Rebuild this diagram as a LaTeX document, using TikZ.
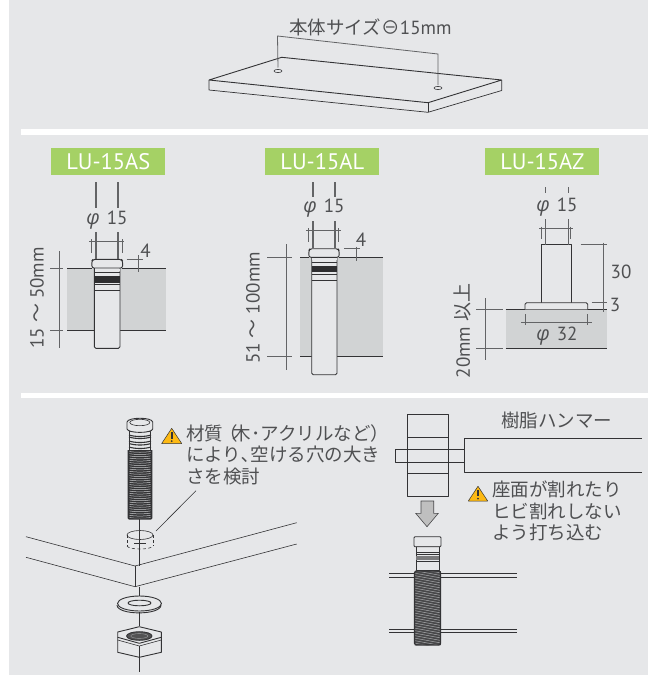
\documentclass[tikz,border=0pt]{standalone}
\usepackage{fontspec}
\setmainfont{PT Sans}
\newfontfamily\cjk{Noto Sans CJK JP}
\newfontfamily\phifont{Open Sans}
\newcommand{\phisym}{{\phifont\itshape\fontsize{20}{20}\selectfont φ}}
\definecolor{bgc}{HTML}{E6E7E9}
\definecolor{blockc}{HTML}{D1D3D4}
\definecolor{greenc}{HTML}{A5D165}
\definecolor{inkc}{HTML}{333335}
\definecolor{textc}{HTML}{4F5052}
\definecolor{dimc}{HTML}{636466}
\definecolor{warnc}{HTML}{FDB913}
\tikzset{
  ink/.style={draw=inkc,line width=0.9pt,line join=round},
  thin ink/.style={draw=inkc,line width=0.6pt},
  dimline/.style={draw=dimc,line width=0.8pt},
  tick/.style={draw=dimc,line width=1.3pt},
  block/.style={fill=blockc,draw=none},
  lbl/.style={text=textc,font=\fontsize{19}{20}\selectfont,inner sep=0pt},
  jp/.style={text=textc,font=\cjk\fontsize{18.5}{21.5}\selectfont,inner sep=0pt,align=left,anchor=north west},
  tag/.style={fill=greenc,text=white,font=\fontsize{22.5}{23}\selectfont,minimum width=114pt,minimum height=27pt,inner sep=0pt},
  warn/.style={fill=warnc,draw=inkc,line width=0.5pt,line join=round}
}
\newcommand{\warnsign}[3]{%
  \filldraw[warn] (#1,#2) -- ++(#3,0) -- ++(-#3/2,-#3*0.76) -- cycle;
  \fill[inkc] (#1+#3/2-0.9,#2-#3*0.58) rectangle (#1+#3/2+0.9,#2-#3*0.24);
  \fill[inkc] (#1+#3/2,#2-#3*0.12) circle (1pt);
}
\begin{document}
\begin{tikzpicture}[x=1pt,y=-1pt]
\useasboundingbox (0,0) rectangle (648,675);
\fill[white] (0,0) rectangle (648,675);
\fill[bgc] (9,0) rectangle (648,675);
\fill[white] (21,129) rectangle (648,134.5);
\fill[white] (21,393) rectangle (648,398.3);

% ---------- top plate
\draw[ink] (209,80) -- (281.7,57.3) -- (501.7,80) -- (428,102.7) -- cycle;
\draw[ink,line width=0.7pt] (209,80) -- (209,90) -- (428,112.3) -- (501.7,90.5) -- (501.7,80);
\draw[ink,line width=0.7pt] (428,102.7) -- (428,112.3);
\draw[thin ink] (278,71) ellipse (4 and 1.6);
\draw[thin ink] (438,88) ellipse (4 and 1.6);
\draw[dimline] (278,67.5) -- (277.5,36) -- (438,54) -- (438,85);
\node[lbl] (title) at (370.5,27.5) {{\cjk\fontsize{18.5}{20}\selectfont 本体サイズ⊖}15mm};

% ---------- LU-15AS
\node[tag] (tagAS) at (108.3,161.5) {LU-15AS};
\fill[block] (67.3,268) rectangle (166,330);
\draw[ink] (67.3,268) -- (92,268) (122,268) -- (166,268);
\draw[ink] (67.3,330) -- (94.3,330) (120,330) -- (166,330);
\draw[ink,fill=bgc] (94.3,268) -- (94.3,346.5) [rounded corners=1.5pt] -- (94.3,348.3) -- (120,348.3) -- (120,268);
\draw[ink,rounded corners=2pt] (92,268) -- (91.7,261) -- (93,259.3) -- (121.5,259.3) -- (122.7,261) -- (122.5,268) -- cycle;
\fill[bgc] (94.7,268.5) rectangle (119.6,271);
\draw[ink] (94.3,272.7) -- (120,272.7);
\fill[inkc!90!black] (94.3,276) rectangle (120,282.7);
\draw[ink] (94.3,284.5) -- (120,284.5) (94.3,290.7) -- (120,290.7);
\draw[tick] (96,182) -- (96,208) (118,182) -- (118,208);
\draw[tick] (96,232) -- (96,259) (118,232) -- (118,259);
\node[lbl] (dAS) at (107,220) {\phisym\hspace{7pt}15};
\draw[dimline] (89,241.3) -- (124,241.3) (91.7,239) -- (91.7,252.7) (122,239) -- (122,252.7);
\draw[dimline] (126.7,259.3) -- (143.3,259.3) (138.7,255) -- (138.7,272);
\node[lbl] (fAS) at (145.5,251) {4};
\draw[dimline] (59,251) -- (59,347.7) (50,268) -- (63,268) (50,330) -- (63,330);
\node[lbl,rotate=90] (hAS) at (37,298) {15 {\cjk ～} 50mm};

% ---------- LU-15AL
\node[tag] (tagAL) at (322.3,161.5) {LU-15AL};
\fill[block] (300.3,257.3) rectangle (383.3,356);
\draw[ink] (300.3,257.3) -- (309,257.3) (339,257.3) -- (383.3,257.3);
\draw[ink] (300.3,356) -- (311.7,356) (337,356) -- (383.3,356);
\draw[ink,fill=bgc] (311.7,257.3) -- (311.7,373) [rounded corners=1.5pt] -- (311.7,374.7) -- (337,374.7) -- (337,257.3);
\draw[ink,rounded corners=2pt] (309,257.3) -- (308.7,250.5) -- (310,248.7) -- (338,248.7) -- (339.3,250.5) -- (339,257.3) -- cycle;
\fill[bgc] (312,257.8) rectangle (336.6,260);
\draw[ink] (311.7,262) -- (337,262);
\fill[inkc!90!black] (311.7,266) rectangle (337,272);
\draw[ink] (311.7,274.3) -- (337,274.3) (311.7,280.3) -- (337,280.3);
\draw[tick] (313,182) -- (313,197) (335,182) -- (335,197);
\draw[tick] (313,221) -- (313,248.3) (335,221) -- (335,248.3);
\node[lbl] (dAL) at (324,208.5) {\phisym\hspace{7pt}15};
\draw[dimline] (306,230) -- (341,230) (308.7,228) -- (308.7,241.7) (338.7,228) -- (338.7,241.7);
\draw[dimline] (344,248.7) -- (360,248.7) (356,246.7) -- (356,260.7);
\node[lbl] (fAL) at (361,240) {4};
\draw[dimline] (286.7,244) -- (286.7,370) (267.3,257.3) -- (292.3,257.3) (267.3,356) -- (292.3,356);
\node[lbl,rotate=90] (hAL) at (253,308) {51 {\cjk ～} 100mm};

% ---------- LU-15AZ
\node[tag] (tagAZ) at (542.3,161.5) {LU-15AZ};
\fill[block] (505.7,309.3) rectangle (606.7,348);
\draw[ink] (505.7,309.3) -- (606.7,309.3);
\draw[ink] (505.7,348) -- (606.7,348);
\draw[ink,fill=bgc] (541.3,302.7) -- (541.3,244.7) -- (571.3,244.7) -- (571.3,302.7);
\draw[ink,fill=bgc,rounded corners=1.5pt] (525,309.3) -- (525,302.7) -- (587.7,302.7) -- (587.7,309.3);
\draw[tick] (545.3,187.3) -- (545.3,193.3) (568.3,187.3) -- (568.3,193.3);
\draw[tick] (545.3,219.3) -- (545.3,244.7) (568.3,219.3) -- (568.3,244.7);
\node[lbl] (dAZ) at (557,207.5) {\phisym\hspace{7pt}15};
\draw[dimline] (539.3,228.3) -- (573.3,228.3) (541,226.7) -- (541,239) (570.3,226.7) -- (570.3,239);
\draw[dimline] (603.3,242.7) -- (603.3,312) (580.7,244.7) -- (606.7,244.7) (591.7,302.7) -- (606.7,302.7);
\node[lbl] (h30) at (621,272) {30};
\node[lbl] (h3) at (615,305) {3};
\draw[dimline] (521,322.7) -- (591.7,322.7) (525,314.3) -- (525,324.5) (587.7,314.3) -- (587.7,324.5);
\node[lbl] (d32) at (557,336.5) {\phisym\hspace{7pt}32};
\draw[dimline] (485,298.3) -- (485,360) (476,309.3) -- (502.7,309.3) (476,348) -- (502.7,348);
\node[lbl,rotate=90] (hAZ) at (462.7,331) {20mm {\cjk 以上}};

% ---------- assembly, left
\draw[thin ink] (139.5,519) -- (139.5,566);
\draw[thin ink] (26,536.7) -- (135,566) -- (296.7,522.7);
\draw[thin ink] (26,557.3) -- (135,586.7) -- (296.7,544);
\draw[thin ink] (135,566) -- (135,586.7);
\draw[thin ink] (139.3,586.7) -- (139.3,597);
% hole
\draw[thin ink] (140,535) ellipse (13 and 4.5);
\draw[thin ink,dash pattern=on 3pt off 2pt] (127,535) -- (127,546) (153,535) -- (153,546);
\draw[thin ink,dash pattern=on 3pt off 2.5pt] (127,546) .. controls (129,550) and (151,550) .. (153,546);
\draw[thin ink] (134,543) -- (146,543);
\draw[thin ink] (196,490.7) -- (156,531);
% threaded bolt
\fill[inkc] (128.3,450) rectangle (151.7,519);
\foreach \y in {451.5,453.7,...,518}{\draw[bgc!85!inkc,line width=0.5pt] (129.5,\y) .. controls (135,\y+1) and (145,\y+1) .. (150.5,\y);}
\draw[ink,line width=1.4pt,rounded corners=1pt] (128.3,450) -- (128.3,519) -- (151.7,519) -- (151.7,450);
\draw[ink,fill=bgc] (129.5,431) -- (129.5,450) -- (150.5,450) -- (150.5,431) -- cycle;
\foreach \y in {435,437,441,443.5,447}{\draw[ink,line width=1.1pt] (129,\y) .. controls (135,\y+2) and (145,\y+2) .. (151,\y);}
\draw[ink,fill=bgc] (127,422) -- (127,429) .. controls (128,433.5) and (152,433.5) .. (152.7,429) -- (152.7,422) .. controls (152,417) and (128,417) .. (127,422) -- cycle;
\draw[thin ink] (139.8,422.5) ellipse (10 and 3.2);
% washer
\draw[ink] (117,605) .. controls (117,615.5) and (161,615.5) .. (161,605);
\draw[ink,fill=bgc] (139.5,603.5) ellipse (22 and 7.5);
\draw[ink] (139.5,603) ellipse (11.5 and 2.8);
% nut
\draw[thin ink] (139.3,612) -- (139.3,626);
\draw[ink,fill=bgc] (117.7,632) -- (139.3,626.7) -- (161.3,632) -- (161.3,652.3) -- (139.3,657.3) -- (117.7,652.3) -- cycle;
\draw[ink] (117.7,637.3) -- (139.3,643.3) -- (161.3,637.3);
\draw[thin ink] (117.7,640) -- (139.3,646) -- (161.3,640);
\draw[thin ink] (139.3,646) -- (139.3,657.3);
\draw[ink,fill=inkc!85] (139.3,636) ellipse (12.7 and 4.3);
\draw[draw=bgc!60!inkc,line width=0.4pt] (139.3,636) ellipse (8.5 and 2.4);
\draw[thin ink] (139.3,657.3) -- (139.3,671.5);
\warnsign{161.7}{443.5}{20}
\node[jp] (noteL) at (186,424) {材質\hspace{-4pt}（\hspace{-5pt}木･アクリルなど）\\により､空ける穴の大き\\さを検討};

% ---------- assembly, right
\draw[ink,fill=bgc] (407.7,414.3) rectangle (448.7,496.3);
\draw[ink] (407.7,437.7) -- (448.7,437.7) (407.7,473.3) -- (448.7,473.3);
\draw[ink] (464.3,449) -- (395,449) -- (395,462.3) -- (464.3,462.3);
\draw[ink,line width=1.1pt] (641.7,438.7) -- (464.3,438.7) -- (464.3,472.3) -- (641.7,472.3);
\node[lbl,font=\cjk\fontsize{18.5}{20}\selectfont] (hammer) at (556.5,420) {樹脂ハンマー};
\filldraw[fill=black!25,draw=inkc!90,line width=0.6pt,line join=miter] (421,501) -- (433.7,501) -- (433.7,513.3) -- (438.3,513.3) -- (427,526.7) -- (415.7,513.3) -- (421,513.3) -- cycle;
\warnsign{468.3}{501}{19.4}
\node[jp] (noteR) at (492,481) {座面が割れたり\\ヒビ割れしない\\よう打ち込む};
% board lines
\draw[thin ink,line width=0.8pt] (389.3,573.3) -- (414.5,573.3) (440.5,573.3) -- (516.7,573.3);
\draw[thin ink,line width=0.8pt] (389.3,577.3) -- (414.5,577.3) (440.5,577.3) -- (516.7,577.3);
\draw[thin ink,line width=0.8pt] (389.3,629) -- (414.5,629) (440.5,629) -- (516.7,629);
\draw[thin ink,line width=0.8pt] (389.3,632.7) -- (414.5,632.7) (440.5,632.7) -- (516.7,632.7);
% bolt driven in
\draw[ink,fill=bgc] (416,546.7) -- (416,570.7) -- (439,570.7) -- (439,546.7) -- cycle;
\draw[ink] (416,552) -- (439,552) (416,554.5) -- (439,554.5);
\fill[inkc!65] (416,555.5) rectangle (439,560);
\draw[ink] (416,561.5) -- (439,561.5);
\draw[ink,fill=bgc,rounded corners=1pt] (414,546.7) -- (414,536.7) -- (441,536.7) -- (441,546.7) -- cycle;
\fill[inkc!90] (414.5,571) rectangle (440.5,645);
\begin{scope}
\clip (414.5,571) rectangle (440.5,645);
\foreach \y in {568,570.5,...,646}{\draw[bgc!65!inkc,line width=0.5pt] (414,\y) -- (441,\y+5);}
\end{scope}
\draw[ink,rounded corners=1.5pt,line width=1.1pt] (414.5,571) -- (414.5,645) -- (440.5,645) -- (440.5,571) -- cycle;
\end{tikzpicture}
\end{document}
